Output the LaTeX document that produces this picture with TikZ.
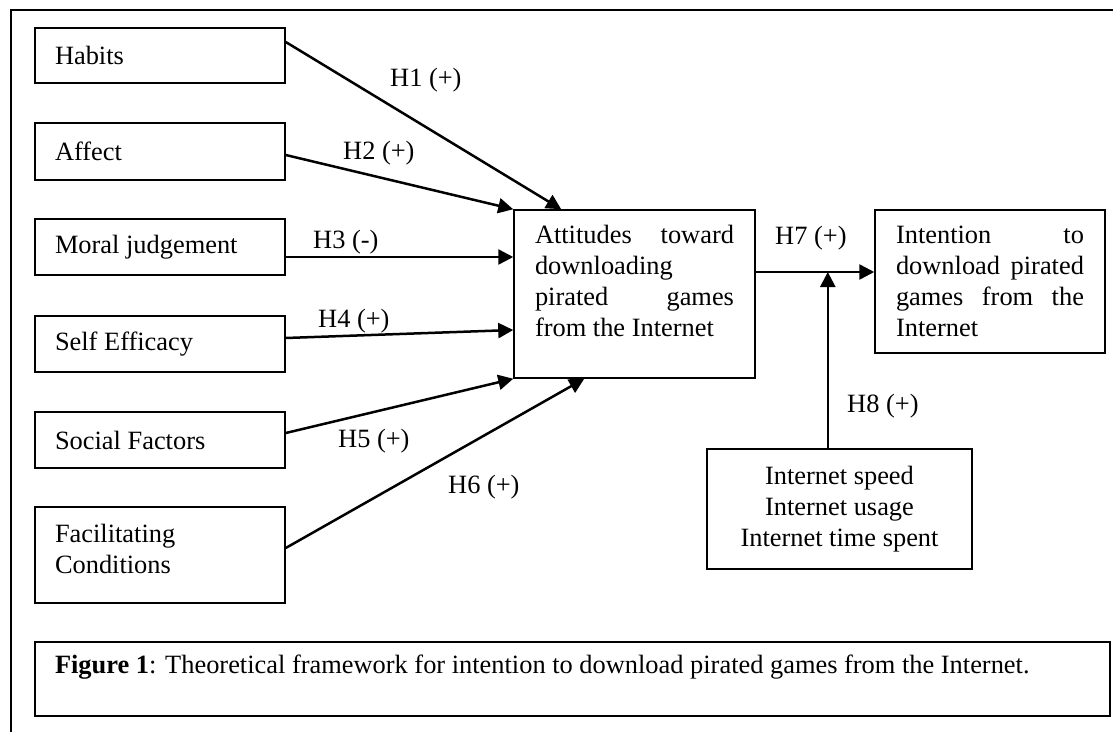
\documentclass[tikz,border=0pt]{standalone}
\usepackage{fontspec}
\setmainfont{Liberation Serif}
\usetikzlibrary{arrows.meta,calc}
\newcommand{\topbox}[4]{\parbox[c][#2][t]{#1}{\vspace*{#3}\strut #4}}
\begin{document}
\begin{tikzpicture}[x=1pt,y=-1pt,
  every node/.style={font=\fontsize{26.4}{31}\selectfont},
  box/.style={draw, line width=1.5pt, rectangle, inner ysep=0pt},
  lbox/.style={box, text width=210pt, align=flush left, inner xsep=20pt, minimum height=#1},
  arr/.style={line width=2.5pt, -{Triangle[length=15pt,width=15pt]}},
  hl/.style={anchor=base west, inner sep=0pt}]
\useasboundingbox (0,0) rectangle (1113,731);
% outer frame
\draw[line width=2pt] (11,735) -- (11,10) -- (1117,10);
% left boxes
\node[lbox=55pt] (hab) at (160,55.5) {Habits};
\node[lbox=57pt] (aff) at (160,151.5) {Affect};
\node[lbox=56pt] (mor) at (160,247) {Moral judgement};
\node[lbox=56pt] (sel) at (160,344) {Self Efficacy};
\node[lbox=56pt] (soc) at (160,440) {Social Factors};
\node[box, inner xsep=20pt] (fac) at (160,555) {\topbox{210pt}{96pt}{13.3pt}{Facilitating\\Conditions}};
% central boxes
\node[box, inner xsep=21pt] (att) at (634.5,294) {\topbox{199pt}{168pt}{11.3pt}{Attitudes\hfill toward\\ downloading\\ pirated\hfill games\\ from the Internet}};
\node[box, inner xsep=21pt] (int) at (990,281.5) {\topbox{188pt}{143pt}{11.3pt}{Intention\hfill to\\ download\hfill pirated\\ games\hfill from\hfill the\\ Internet}};
\node[box, align=flush center, minimum width=265pt, minimum height=120pt] (inet) at (839.5,509) {Internet speed\\Internet usage\\Internet time spent};
% caption
\node[box, inner xsep=20pt] (cap) at (572.5,679) {\topbox{1035pt}{74pt}{9.3pt}{\textbf{Figure 1}: Theoretical framework for intention to download pirated games from the Internet.}};
% arrows
\draw[arr] ([yshift=13.5pt]hab.east) -- ([xshift=48pt]att.north west);
\draw[arr] ([yshift=-3.5pt]aff.east) -- (att.north west);
\draw[arr] ([yshift=-10pt]mor.east) -- ([yshift=37pt]att.west);
\draw[arr] ([yshift=6pt]sel.east) -- ([yshift=-36pt]att.west);
\draw[arr] ([yshift=7pt]soc.east) -- (att.south west);
\draw[arr] ([yshift=7pt]fac.east) -- ([xshift=71pt]att.south west);
\coordinate (h7a) at ([yshift=22pt]att.east);
\coordinate (h7b) at ([yshift=9.5pt]int.west);
\coordinate (j) at ($(h7a)!0.608!(h7b)$);
\draw[arr] (h7a) -- (h7b);
\draw[arr] (inet.north -| j) -- (j);
% labels
\node[hl] (l1) at (390,86.7) {H1 (+)};
\node[hl] (l2) at (343,159) {H2 (+)};
\node[hl] (l3) at (313,248) {H3 (-)};
\node[hl] (l4) at (318,327) {H4 (+)};
\node[hl] (l5) at (338,447) {H5 (+)};
\node[hl] (l6) at (448,493) {H6 (+)};
\node[hl] (l7) at (775,244) {H7 (+)};
\node[hl] (l8) at (847,412) {H8 (+)};
\end{tikzpicture}
\end{document}
